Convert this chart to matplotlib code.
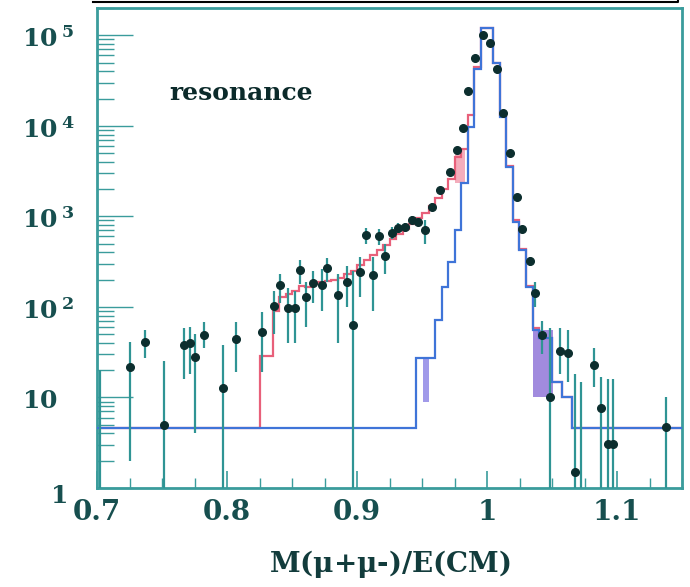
import numpy as np
import matplotlib
matplotlib.use("Agg")
import matplotlib.pyplot as plt
from matplotlib.lines import Line2D
from matplotlib import transforms

plt.rcParams['mathtext.fontset'] = 'custom'
plt.rcParams['mathtext.rm'] = 'DejaVu Serif'
plt.rcParams['mathtext.bf'] = 'DejaVu Serif:bold'

# MC histogram with radiative tail (red)
red_edges = [0.700, 0.825, 0.830, 0.835, 0.840, 0.845, 0.850, 0.855, 0.860, 0.865,
             0.870, 0.875, 0.880, 0.885, 0.890, 0.895, 0.900, 0.905, 0.910, 0.915,
             0.920, 0.925, 0.930, 0.935, 0.940, 0.945, 0.950, 0.955, 0.960, 0.965,
             0.970, 0.975, 0.980, 0.985, 0.990, 0.995, 1.005, 1.010, 1.015, 1.020,
             1.025, 1.030, 1.035, 1.040, 1.050, 1.058, 1.065, 1.150]
red_vals = [4.6, 29, 29, 90, 130, 140, 150, 170, 165, 180,
            190, 195, 200, 210, 230, 250, 290, 330, 370, 420,
            480, 560, 640, 720, 820, 950, 1100, 1300, 1600, 2000,
            2600, 4500, 5500, 1.3e4, 4.5e4, 1.2e5, 5.0e4, 1.3e4, 3.6e3, 900,
            440, 170, 58, 45, 15, 10, 4.6]

# MC histogram without tail (blue)
blue_edges = [0.700, 0.945, 0.960, 0.965, 0.970, 0.975, 0.980, 0.985, 0.990, 0.995,
              1.005, 1.010, 1.015, 1.020, 1.025, 1.030, 1.035, 1.040, 1.050, 1.058,
              1.065, 1.150]
blue_vals = [4.6, 27, 72, 166, 315, 710, 2350, 9800, 4.2e4, 1.2e5,
             5.0e4, 1.25e4, 3.5e3, 870, 427, 166, 56, 45, 15, 10, 4.6]

# MC error bands
band_x0 = [0.9505, 1.0355, 0.9755]
band_x1 = [0.9550, 1.0505, 0.9830]
band_lo = [9, 10, 2350]
band_hi = [27, 56, 5400]
band_col = ['#7a70e0', '#7a5ad0', '#f08aa0']

# data points
data_x = [0.7025, 0.7254, 0.737, 0.7515, 0.767, 0.7716, 0.7755, 0.782, 0.797, 0.807,
          0.827, 0.836, 0.841, 0.847, 0.852, 0.856, 0.861, 0.866, 0.873, 0.877,
          0.885, 0.892, 0.897, 0.902, 0.907, 0.912, 0.917, 0.9215, 0.927, 0.9315,
          0.937, 0.942, 0.947, 0.952, 0.958, 0.9638, 0.9715, 0.977, 0.9815, 0.985,
          0.991, 0.997, 1.002, 1.0077, 1.0123, 1.0177, 1.023, 1.027, 1.033, 1.037,
          1.042, 1.0485, 1.056, 1.062, 1.068, 1.0723, 1.082, 1.088, 1.093, 1.097,
          1.138]
data_y = [0.5, 21.7, 41, 5.0, 38, 40, 28, 49, 12.7, 44.5,
          53, 102, 175, 98, 98, 256, 129, 184, 175, 270,
          135, 190, 63, 245, 625, 225, 600, 365, 660, 745,
          765, 910, 870, 710, 1270, 1960, 3100, 5400, 9500, 2.4e4,
          5.6e4, 1.0e5, 8.3e4, 4.2e4, 1.4e4, 5000, 1650, 730, 320, 142,
          49, 10, 33, 31, 1.5, 0.5, 23, 7.7, 3.1, 3.1,
          4.7]
data_lo = [0.5, 2.0, 27, 0.5, 16, 18, 4, 35, 0.5, 19,
           19, 50, 110, 40, 40, 180, 60, 110, 90, 190,
           40, 100, 0.5, 130, 500, 90, 480, 230, 560, 650,
           680, 820, 780, 500, 1150, 1800, 2900, 5100, 9100, 2.3e4,
           5.5e4, 0.98e5, 8.1e4, 4.1e4, 1.35e4, 4800, 1550, 670, 280, 100,
           30, 0.5, 18, 15, 0.5, 0.5, 13, 0.5, 0.5, 0.5,
           0.5]
data_hi = [20, 41, 56, 25, 58, 60, 50, 68, 38, 68,
           88, 150, 230, 160, 150, 330, 190, 250, 260, 350,
           230, 280, 250, 360, 750, 360, 720, 500, 760, 840,
           850, 1000, 960, 900, 1400, 2100, 3300, 5700, 9900, 2.5e4,
           5.7e4, 1.02e5, 8.5e4, 4.3e4, 1.45e4, 5200, 1750, 790, 360, 190,
           70, 58, 58, 55, 18, 15, 35, 17, 16, 16,
           10]

x_ticks = [0.7, 0.8, 0.9, 1.0, 1.1]
x_ticklabels = ['0.7', '0.8', '0.9', '1', '1.1']
y_ticks = [1, 10, 1e2, 1e3, 1e4, 1e5]
y_ticklabels = [r'$\mathbf{1}$', r'$\mathbf{10}$', r'$\mathbf{10^{\;2}}$',
                r'$\mathbf{10^{\;3}}$', r'$\mathbf{10^{\;4}}$', r'$\mathbf{10^{\;5}}$']

axis_col = '#3a9c9c'
text_col = '#174f4f'
serif = ['DejaVu Serif']

fig = plt.figure(figsize=(6.9, 5.87), dpi=100)
ax = fig.add_axes([97 / 690, 1 - 488 / 587, 585 / 690, 480 / 587])
ax.set_yscale('log')
ax.set_xlim(0.7, 1.15)
ax.set_ylim(1, 2.0e5)

for x0, x1, lo, hi, c in zip(band_x0, band_x1, band_lo, band_hi, band_col):
    ax.bar(x0, hi - lo, width=x1 - x0, bottom=lo, align='edge', color=c,
           alpha=0.7, linewidth=0, zorder=1)

ax.stairs(red_vals, red_edges, color='#e8607a', linewidth=1.6, baseline=None, zorder=2)
ax.stairs(blue_vals, blue_edges, color='#3f74d8', linewidth=1.6, baseline=None, zorder=3)

data_x = np.array(data_x)
data_y = np.array(data_y)
yerr = [data_y - np.array(data_lo), np.array(data_hi) - data_y]
ax.errorbar(data_x, data_y, yerr=yerr, fmt='o', ms=5.5, color='#0c2e2e',
            ecolor='#2f9494', elinewidth=1.6, capsize=0, zorder=4)

# axes styling
for s in ax.spines.values():
    s.set_color(axis_col)
    s.set_linewidth(2)
ax.set_xticks(x_ticks)
ax.set_xticklabels(x_ticklabels)
ax.xaxis.set_minor_locator(matplotlib.ticker.MultipleLocator(0.025))
ax.tick_params(axis='x', which='major', direction='in', length=12, width=1.2,
               color=axis_col, pad=8, labelsize=20, labelcolor=text_col)
ax.tick_params(axis='x', which='minor', direction='in', length=7, width=1.0,
               color=axis_col)
for lab in ax.get_xticklabels():
    lab.set_family(serif)
    lab.set_fontweight('bold')

ax.set_yticks(y_ticks)
ax.set_yticklabels([])
ax.yaxis.set_minor_locator(matplotlib.ticker.LogLocator(base=10, subs=np.arange(2, 10)))
ax.yaxis.set_minor_formatter(matplotlib.ticker.NullFormatter())
ax.tick_params(axis='y', which='major', direction='in', length=26, width=1.0,
               color=axis_col)
ax.tick_params(axis='y', which='minor', direction='in', length=12, width=1.0,
               color=axis_col)
ax.tick_params(axis='both', which='both', top=False, right=False)

trans = transforms.blended_transform_factory(ax.transAxes, ax.transData)
for v, lab in zip(y_ticks, y_ticklabels):
    dx, dy = (-47, -8) if v == 1 else (-75, -4)
    ax.annotate(lab, xy=(0, v), xycoords=trans, xytext=(dx, dy),
                textcoords='offset pixels', ha='left', va='center',
                fontsize=18, color=text_col, annotation_clip=False)

ax.set_xlabel(r'M($\mathbf{\mu}$+$\mathbf{\mu}$-)/E(CM)', fontsize=20,
              fontweight='bold', family=serif, color='#123c3c', labelpad=16)

ax.text(0.811, 10 ** 4.36, 'resonance', fontsize=18, fontweight='bold',
        family=serif, color='#0b2a2a', ha='center', va='center')

# frame edge of the panel above
fig.add_artist(Line2D([93 / 690, 678 / 690, 678 / 690], [1 - 2 / 587, 1 - 2 / 587, 1.0],
                      color='black', linewidth=1.5))

fig.savefig('out.png', dpi=100)
